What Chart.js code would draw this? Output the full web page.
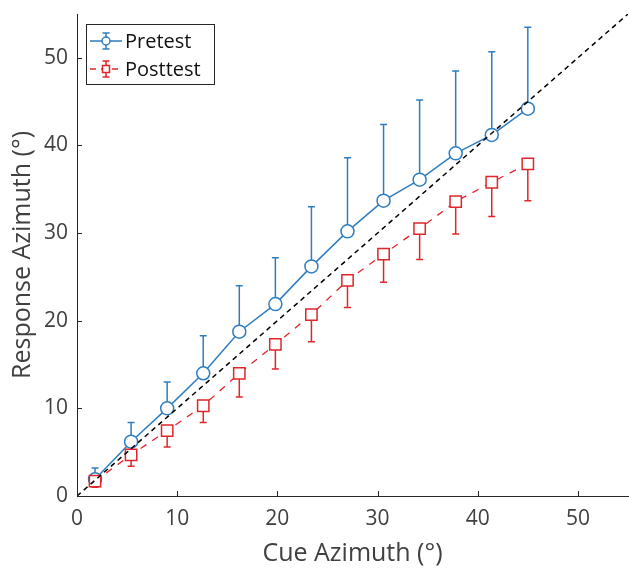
<!DOCTYPE html>
<html>
<head>
<meta charset="utf-8">
<script src="https://cdn.jsdelivr.net/npm/chart.js@4"></script>
<style>
  html, body { margin: 0; padding: 0; background: #fff; }
  canvas { display: block; }
</style>
</head>
<body>
<canvas id="azimuthChart" width="629" height="571"></canvas>
<script>
// cue azimuths (deg)
const cueAzimuth = [1.8, 5.4, 9.0, 12.6, 16.2, 19.8, 23.4, 27.0, 30.6, 34.2, 37.8, 41.4, 45.0];

// pretest mean + top of its (upper only) error bar
const pretestMean  = [1.9, 6.2, 10.0, 14.0, 18.75, 21.9, 26.2, 30.2, 33.7, 36.1, 39.1, 41.2, 44.2];
const pretestUpper = [3.2, 8.4, 13.0, 18.3, 24.0, 27.2, 33.0, 38.6, 42.4, 45.2, 48.5, 50.7, 53.5];

// posttest mean + bottom of its (lower only) error bar
const posttestMean  = [1.7, 4.7, 7.45, 10.3, 14.0, 17.3, 20.7, 24.6, 27.6, 30.5, 33.6, 35.8, 37.9];
const posttestLower = [1.0, 3.4, 5.6, 8.4, 11.3, 14.5, 17.6, 21.5, 24.4, 27.0, 29.9, 31.9, 33.7];

// unity line
const unityX = [0, 55];
const tickValues = [0, 10, 20, 30, 40, 50];

const BLUE = '#2f7dbf';
const RED = '#e0262b';
const TEXT = '#404040';
const AXIS = '#262626';
const FONT = "'Open Sans', sans-serif";

const toPoints = (xs, ys) => xs.map((x, i) => ({ x: x, y: ys[i] }));

// one-sided error bars, drawn under the markers
const errorBarPlugin = {
  id: 'errorBars',
  beforeDatasetsDraw(chart) {
    const ctx = chart.ctx;
    const xs = chart.scales.x, ys = chart.scales.y;
    const cap = 3.5;
    function bars(means, ends, color) {
      ctx.save();
      ctx.strokeStyle = color;
      ctx.lineWidth = 1.5;
      ctx.setLineDash([]);
      means.forEach((m, i) => {
        const px = xs.getPixelForValue(cueAzimuth[i]);
        const p0 = ys.getPixelForValue(m);
        const p1 = ys.getPixelForValue(ends[i]);
        ctx.beginPath();
        ctx.moveTo(px, p0);
        ctx.lineTo(px, p1);
        ctx.moveTo(px - cap, p1);
        ctx.lineTo(px + cap, p1);
        ctx.stroke();
      });
      ctx.restore();
    }
    bars(pretestMean, pretestUpper, BLUE);
    bars(posttestMean, posttestLower, RED);
  }
};

// inward tick marks (matlab style)
const inwardTicks = {
  id: 'inwardTicks',
  afterDraw(chart) {
    const ctx = chart.ctx;
    const xs = chart.scales.x, ys = chart.scales.y;
    const a = chart.chartArea;
    const len = 5;
    ctx.save();
    ctx.strokeStyle = AXIS;
    ctx.lineWidth = 1;
    ctx.beginPath();
    tickValues.forEach(v => {
      const px = Math.round(xs.getPixelForValue(v)) + 0.5;
      ctx.moveTo(px, a.bottom);
      ctx.lineTo(px, a.bottom - len);
      const py = Math.round(ys.getPixelForValue(v)) + 0.5;
      ctx.moveTo(a.left, py);
      ctx.lineTo(a.left + len, py);
    });
    ctx.stroke();
    ctx.restore();
  }
};

// legend box in the top left corner
const boxLegend = {
  id: 'boxLegend',
  afterDraw(chart) {
    const ctx = chart.ctx;
    const bx = 86.5, by = 24.5, bw = 128, bh = 60;
    ctx.save();
    ctx.fillStyle = '#fff';
    ctx.fillRect(bx, by, bw, bh);
    ctx.strokeStyle = AXIS;
    ctx.lineWidth = 1;
    ctx.strokeRect(bx, by, bw, bh);

    const entries = [
      { label: 'Pretest', color: BLUE, dash: [], marker: 'circle', y: 41 },
      { label: 'Posttest', color: RED, dash: [6, 5], marker: 'rect', y: 69 }
    ];
    entries.forEach(e => {
      const cx = 106;
      ctx.strokeStyle = e.color;
      ctx.lineWidth = 1.5;
      ctx.setLineDash(e.dash);
      ctx.beginPath();
      ctx.moveTo(90, e.y);
      ctx.lineTo(122, e.y);
      ctx.stroke();
      ctx.setLineDash([]);
      ctx.beginPath();
      ctx.moveTo(cx, e.y - 8);
      ctx.lineTo(cx, e.y + 8);
      ctx.moveTo(cx - 3.5, e.y - 8);
      ctx.lineTo(cx + 3.5, e.y - 8);
      ctx.moveTo(cx - 3.5, e.y + 8);
      ctx.lineTo(cx + 3.5, e.y + 8);
      ctx.stroke();
      ctx.fillStyle = '#fff';
      ctx.beginPath();
      if (e.marker === 'circle') {
        ctx.arc(cx, e.y, 4, 0, Math.PI * 2);
      } else {
        ctx.rect(cx - 3.5, e.y - 3.5, 7, 7);
      }
      ctx.fill();
      ctx.stroke();
      ctx.fillStyle = '#111';
      ctx.font = '20px ' + FONT;
      ctx.textBaseline = 'middle';
      ctx.textAlign = 'left';
      ctx.fillText(e.label, 125, e.y + 1);
    });
    ctx.restore();
  }
};

function noPad(s) {
  s.paddingTop = 0;
  s.paddingBottom = 0;
  s.paddingLeft = 0;
  s.paddingRight = 0;
}

new Chart(document.getElementById('azimuthChart').getContext('2d'), {
  type: 'scatter',
  data: {
    datasets: [
      {
        label: 'Unity',
        data: toPoints(unityX, unityX),
        showLine: true,
        borderColor: '#000',
        borderWidth: 1.5,
        borderDash: [5, 4],
        pointRadius: 0,
        order: 0
      },
      {
        label: 'Posttest',
        data: toPoints(cueAzimuth, posttestMean),
        showLine: true,
        borderColor: RED,
        borderWidth: 1.3,
        borderDash: [7, 7],
        pointStyle: 'rect',
        pointRadius: 8,
        pointBorderWidth: 1.5,
        pointBackgroundColor: '#fff',
        pointBorderColor: RED,
        order: 1
      },
      {
        label: 'Pretest',
        data: toPoints(cueAzimuth, pretestMean),
        showLine: true,
        borderColor: BLUE,
        borderWidth: 1.5,
        pointStyle: 'circle',
        pointRadius: 6.5,
        pointBorderWidth: 1.5,
        pointBackgroundColor: '#fff',
        pointBorderColor: BLUE,
        order: 2
      }
    ]
  },
  options: {
    responsive: false,
    animation: false,
    layout: { autoPadding: false, padding: { top: 14, right: 1, left: 0, bottom: 0 } },
    plugins: {
      legend: { display: false },
      tooltip: { enabled: false }
    },
    scales: {
      x: {
        type: 'linear',
        min: 0,
        max: 55,
        afterFit: (s) => { s.height = 75; noPad(s); },
        afterBuildTicks: (s) => { s.ticks = tickValues.map(v => ({ value: v })); },
        ticks: { stepSize: 10, color: TEXT, font: { family: FONT, size: 21 }, padding: 10, maxRotation: 0 },
        grid: { display: true, drawOnChartArea: false, drawTicks: false },
        border: { display: true, color: AXIS, width: 1 },
        title: { display: true, text: 'Cue Azimuth (°)', color: TEXT, font: { family: FONT, size: 25 }, padding: { top: 0, bottom: 2 } }
      },
      y: {
        type: 'linear',
        min: 0,
        max: 55,
        afterFit: (s) => { s.width = 77; noPad(s); },
        afterBuildTicks: (s) => { s.ticks = tickValues.map(v => ({ value: v })); },
        ticks: { stepSize: 10, color: TEXT, font: { family: FONT, size: 21 }, padding: 9 },
        grid: { display: true, drawOnChartArea: false, drawTicks: false },
        border: { display: true, color: AXIS, width: 1 },
        title: { display: true, text: 'Response Azimuth (°)', color: TEXT, font: { family: FONT, size: 25 }, padding: { top: 8, bottom: 0 } }
      }
    }
  },
  plugins: [errorBarPlugin, inwardTicks, boxLegend]
});
</script>
</body>
</html>
